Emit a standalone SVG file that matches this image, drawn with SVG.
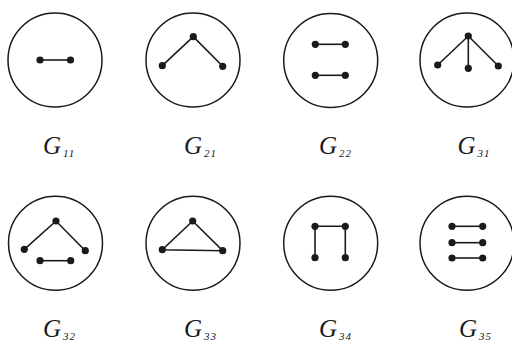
<svg xmlns="http://www.w3.org/2000/svg" width="512" height="344" viewBox="0 0 512 344">
<style>
.c{fill:none;stroke:#1a1a1a;stroke-width:1.5}
.e{stroke:#1a1a1a;stroke-width:1.6;fill:none}
.d{fill:#1a1a1a}
.lbl{font-family:"Liberation Serif","Times New Roman",serif;font-style:italic;font-size:25px;fill:#1a1a1a}
.sub{font-size:11px;letter-spacing:1px}
</style>
<rect width="512" height="344" fill="#fff"/>
<g id="G11">
<circle class="c" cx="55" cy="60" r="47"/>
<g class="edges"><line class="e" x1="40" y1="60" x2="70.5" y2="60"/></g>
<circle class="d" cx="40" cy="60" r="3.6"/><circle class="d" cx="70.5" cy="60" r="3.6"/>
<text class="lbl" x="43" y="154">G<tspan class="sub" dx="2" dy="3">11</tspan></text>
</g>
<g id="G21">
<circle class="c" cx="193" cy="60" r="47"/>
<polyline class="e" points="162.3,65.7 193.3,36.7 222.7,66.3"/>
<circle class="d" cx="193.3" cy="36.7" r="3.6"/><circle class="d" cx="162.3" cy="65.7" r="3.6"/><circle class="d" cx="222.7" cy="66.3" r="3.6"/>
<text class="lbl" x="184" y="154">G<tspan class="sub" dx="2" dy="3">21</tspan></text>
</g>
<g id="G22">
<circle class="c" cx="330.7" cy="60.5" r="47"/>
<line class="e" x1="315.3" y1="44.3" x2="345.3" y2="44.3"/>
<line class="e" x1="315.3" y1="75.3" x2="345.3" y2="75.3"/>
<circle class="d" cx="315.3" cy="44.3" r="3.6"/><circle class="d" cx="345.3" cy="44.3" r="3.6"/>
<circle class="d" cx="315.3" cy="75.3" r="3.6"/><circle class="d" cx="345.3" cy="75.3" r="3.6"/>
<text class="lbl" x="319" y="154">G<tspan class="sub" dx="2" dy="3">22</tspan></text>
</g>
<g id="G31">
<circle class="c" cx="467" cy="60" r="47"/>
<polyline class="e" points="437.7,65 468.3,36 498.3,66"/>
<line class="e" x1="468.3" y1="36" x2="468.3" y2="68.3"/>
<circle class="d" cx="468.3" cy="36" r="3.6"/><circle class="d" cx="437.7" cy="65" r="3.6"/><circle class="d" cx="468.3" cy="68.3" r="3.6"/><circle class="d" cx="498.3" cy="66" r="3.6"/>
<text class="lbl" x="457.5" y="154">G<tspan class="sub" dx="2" dy="3">31</tspan></text>
</g>
<g id="G32">
<circle class="c" cx="55.5" cy="243.3" r="47"/>
<polyline class="e" points="24.3,249.3 56,221 85.3,250.7"/>
<line class="e" x1="40" y1="260.7" x2="70.7" y2="260.7"/>
<circle class="d" cx="56" cy="221" r="3.6"/><circle class="d" cx="24.3" cy="249.3" r="3.6"/><circle class="d" cx="85.3" cy="250.7" r="3.6"/>
<circle class="d" cx="40" cy="260.7" r="3.6"/><circle class="d" cx="70.7" cy="260.7" r="3.6"/>
<text class="lbl" x="43" y="337">G<tspan class="sub" dx="2" dy="3">32</tspan></text>
</g>
<g id="G33">
<circle class="c" cx="193" cy="243.3" r="47"/>
<polygon class="e" points="192.7,221 162.3,249.7 222.7,250.7"/>
<circle class="d" cx="192.7" cy="221" r="3.6"/><circle class="d" cx="162.3" cy="249.7" r="3.6"/><circle class="d" cx="222.7" cy="250.7" r="3.6"/>
<text class="lbl" x="184" y="337">G<tspan class="sub" dx="2" dy="3">33</tspan></text>
</g>
<g id="G34">
<circle class="c" cx="330.7" cy="243.3" r="47"/>
<polyline class="e" points="315,257.7 315,226.3 345.3,226.3 345.3,257.7"/>
<circle class="d" cx="315" cy="226.3" r="3.6"/><circle class="d" cx="345.3" cy="226.3" r="3.6"/>
<circle class="d" cx="315" cy="257.7" r="3.6"/><circle class="d" cx="345.3" cy="257.7" r="3.6"/>
<text class="lbl" x="319" y="337">G<tspan class="sub" dx="2" dy="3">34</tspan></text>
</g>
<g id="G35">
<circle class="c" cx="467" cy="243.3" r="47"/>
<line class="e" x1="452" y1="226.3" x2="482.7" y2="226.3"/>
<line class="e" x1="452" y1="242.7" x2="482.7" y2="242.7"/>
<line class="e" x1="452" y1="258" x2="482.7" y2="258"/>
<circle class="d" cx="452" cy="226.3" r="3.6"/><circle class="d" cx="482.7" cy="226.3" r="3.6"/>
<circle class="d" cx="452" cy="242.7" r="3.6"/><circle class="d" cx="482.7" cy="242.7" r="3.6"/>
<circle class="d" cx="452" cy="258" r="3.6"/><circle class="d" cx="482.7" cy="258" r="3.6"/>
<text class="lbl" x="459" y="337">G<tspan class="sub" dx="2" dy="3">35</tspan></text>
</g>
</svg>
